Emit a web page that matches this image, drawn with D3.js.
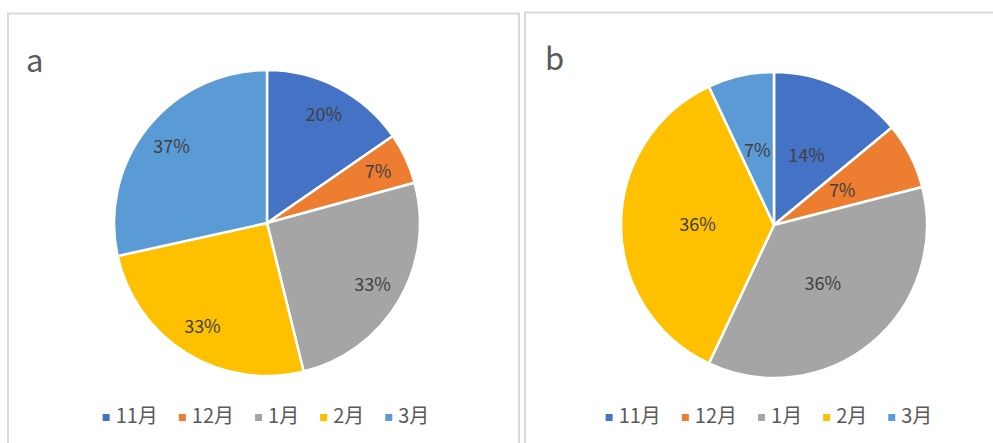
<!DOCTYPE html>
<html>
<head>
<meta charset="utf-8">
<script src="https://cdn.jsdelivr.net/npm/d3@7"></script>
<style>
  html, body { margin: 0; padding: 0; background: #fff; }
  svg { display: block; font-family: "Noto Sans CJK SC", "Noto Sans", sans-serif; }
</style>
</head>
<body>
<div id="chart"></div>
<script>
// months shown in both pies
var months = ['11月', '12月', '1月', '2月', '3月'];
var colors = ['#4472C4', '#ED7D31', '#A5A5A5', '#FFC000', '#5B9BD5'];

// values as labelled on each pie
var valuesA = [20, 7, 33, 33, 37];
var valuesB = [14, 7, 36, 36, 7];

var width = 993, height = 443;

var svg = d3.select('#chart').append('svg')
  .attr('width', width)
  .attr('height', height);

var color = d3.scaleOrdinal().domain(months).range(colors);

// panel frames
var panels = [
  { title: 'a', values: valuesA, x: 8, y: 13.5, w: 511, cx: 267, cy: 223, labelR: 0.8, titleX: 26, titleY: 72, legendCx: 266 },
  { title: 'b', values: valuesB, x: 525, y: 12.5, w: 520, cx: 774, cy: 225, labelR: 0.5, titleX: 545, titleY: 70, legendCx: 769 }
];

var radius = 153;

panels.forEach(function(p) {
  svg.append('rect')
    .attr('x', p.x)
    .attr('y', p.y)
    .attr('width', p.w)
    .attr('height', 500)
    .attr('fill', 'none')
    .attr('stroke', '#d9d9d9')
    .attr('stroke-width', 2);

  svg.append('text')
    .attr('x', p.titleX)
    .attr('y', p.titleY)
    .attr('fill', '#595959')
    .style('font-size', '31px')
    .text(p.title);

  var data = months.map(function(m, i) { return { month: m, value: p.values[i] }; });

  var pie = d3.pie()
    .sort(null)
    .value(function(d) { return d.value; });

  var arc = d3.arc().innerRadius(0).outerRadius(radius);
  var labelArc = d3.arc().innerRadius(radius * p.labelR).outerRadius(radius * p.labelR);

  var g = svg.append('g').attr('transform', 'translate(' + p.cx + ',' + p.cy + ')');
  var arcs = pie(data);

  g.selectAll('path')
    .data(arcs)
    .enter().append('path')
      .attr('d', arc)
      .attr('fill', function(d) { return color(d.data.month); })
      .attr('stroke', '#fff')
      .attr('stroke-width', 2.5)
      .attr('stroke-linejoin', 'round');

  g.selectAll('text.label')
    .data(arcs)
    .enter().append('text')
      .attr('class', 'label')
      .attr('transform', function(d) { return 'translate(' + labelArc.centroid(d) + ')'; })
      .attr('text-anchor', 'middle')
      .attr('dy', '0.35em')
      .attr('fill', '#404040')
      .style('font-size', '18px')
      .text(function(d) { return d.data.value + '%'; });

  // legend, centred under the pie
  var legend = svg.append('g');
  var items = legend.selectAll('g')
    .data(months)
    .enter().append('g');

  items.append('rect')
    .attr('width', 7)
    .attr('height', 7)
    .attr('y', -9)
    .attr('fill', function(d) { return color(d); });

  items.append('text')
    .attr('x', 13)
    .attr('y', 0)
    .attr('fill', '#595959')
    .style('font-size', '20px')
    .text(function(d) { return d; });

  var offset = 0;
  items.each(function() {
    var w = this.querySelector('text').getComputedTextLength();
    d3.select(this).attr('transform', 'translate(' + offset + ',0)');
    offset += 13 + w + 21;
  });
  offset -= 21;
  legend.attr('transform', 'translate(' + (p.legendCx - offset / 2) + ',423)');
});
</script>
</body>
</html>
